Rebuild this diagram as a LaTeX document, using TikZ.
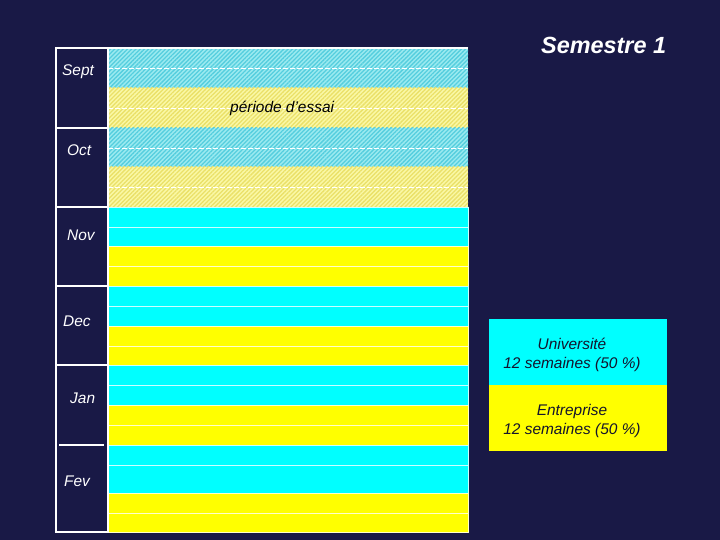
\documentclass[tikz,border=0pt]{standalone}
\usepackage{fontspec}
\setmainfont{Liberation Sans}
\usepackage{tikz}
\usetikzlibrary{patterns.meta, positioning}

\definecolor{navybg}{RGB}{25,25,70}
\definecolor{univcyan}{RGB}{0,255,255}
\definecolor{entyellow}{RGB}{255,255,0}
\definecolor{trialcyan}{RGB}{155,234,240}
\definecolor{trialcyanln}{RGB}{85,206,222}
\definecolor{trialyellow}{RGB}{250,248,166}
\definecolor{trialyellowln}{RGB}{234,224,104}
\definecolor{legendink}{RGB}{20,20,45}

\tikzset{
  univrow/.style={fill=univcyan, draw=white!80!univcyan, line width=0.6bp},
  entrow/.style={fill=entyellow, draw=white!80!entyellow, line width=0.6bp},
  trialuniv/.style={fill=trialcyan,
    postaction={pattern={Lines[angle=45,distance=3pt,line width=1.3pt]}, pattern color=trialcyanln}},
  trialent/.style={fill=trialyellow,
    postaction={pattern={Lines[angle=45,distance=3pt,line width=1.3pt]}, pattern color=trialyellowln}},
  weekline/.style={white, line width=0.8bp, dash pattern=on 5bp off 2bp},
  frameline/.style={white, line width=1.2bp},
  monthlabel/.style={text=white, font=\fontsize{15.5}{18}\selectfont\itshape, anchor=base west, inner sep=0pt},
  legbox/.style={minimum width=178bp, minimum height=66bp, inner sep=0pt, outer sep=0pt},
  legtext/.style={text=legendink, font=\fontsize{15.5}{18}\selectfont\itshape, anchor=base, inner sep=0pt}
}

\begin{document}
\begin{tikzpicture}[x=1bp, y=-1bp]
    % Background
    \fill[navybg] (0,0) rectangle (720,540);
    \useasboundingbox (0,0) rectangle (720,540);

    % Trial period (hatched)
    \foreach \ya/\yb/\kind in {48/88/trialuniv, 88/128/trialent, 128/167/trialuniv, 167/207/trialent}
        \path[\kind] (108,\ya) rectangle (468,\yb);
    \foreach \yw in {68, 108, 148, 187}
        \draw[weekline] (108,\yw) -- (468,\yw);

    % Weeks: university / company
    \foreach \ya/\yb/\kind in {207/227/univrow, 227/246/univrow, 246/266/entrow, 266/286/entrow,
                               286/306/univrow, 306/326/univrow, 326/346/entrow, 346/365/entrow,
                               365/385/univrow, 385/405/univrow, 405/425/entrow, 425/445/entrow,
                               445/465/univrow, 465/493/univrow, 493/513/entrow, 513/532/entrow}
        \path[\kind] (108,\ya) rectangle (468,\yb);

    % Month column
    \draw[frameline] (56,48) rectangle (108,532);
    \draw[frameline] (108,48) -- (468,48);
    \foreach \ym in {128, 207, 286, 365}
        \draw[frameline] (56,\ym) -- (108,\ym);
    \draw[frameline] (59,445) -- (104,445);

    % Month labels
    \node[monthlabel] (sept) at (62,76) {Sept};
    \node[monthlabel] (oct) at (67,156) {Oct};
    \node[monthlabel] (nov) at (67,241) {Nov};
    \node[monthlabel] (dec) at (63,326) {Dec};
    \node[monthlabel] (jan) at (70,403) {Jan};
    \node[monthlabel] (fev) at (64,486) {Fev};

    % Trial label
    \node[monthlabel, text=black] (essai) at (230,113) {période d'essai};

    % Title
    \node[monthlabel, font=\fontsize{23.5}{28}\selectfont\bfseries\itshape] (titre) at (541,54) {Semestre 1};

    % Legend
    \node[legbox, fill=univcyan, anchor=north west] (univbox) at (489,319) {};
    \node[legbox, fill=entyellow, below=0pt of univbox] (entbox) {};
    \node[legtext] (univname) at (572,349) {Université};
    \node[legtext] (univweeks) at (572,368) {12 semaines (50 \%)};
    \node[legtext] (entname) at (572,415) {Entreprise};
    \node[legtext] (entweeks) at (572,434) {12 semaines (50 \%)};

\end{tikzpicture}
\end{document}
